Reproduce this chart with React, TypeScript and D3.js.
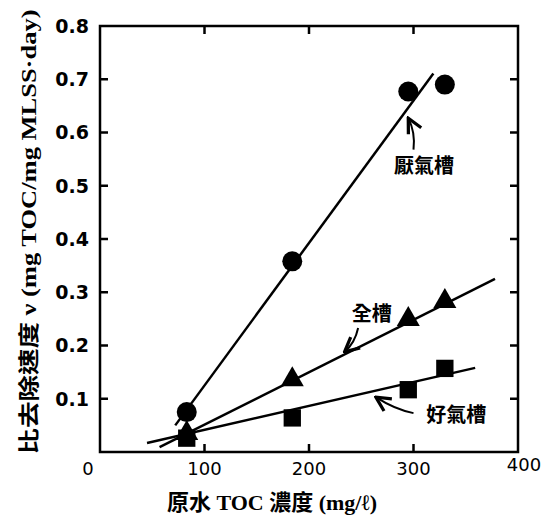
import React from 'react';
import * as d3 from 'd3';

// x = 原水 TOC 濃度 (mg/ℓ), y = 比去除速度 ν
const anaerobicPts: [number, number][] = [[83, 0.075], [184, 0.358], [295, 0.677], [330, 0.69]];
const wholePts: [number, number][] = [[83, 0.035], [184, 0.136], [295, 0.249], [330, 0.283]];
const aerobicPts: [number, number][] = [[83, 0.026], [184, 0.064], [295, 0.117], [330, 0.157]];

// fitted lines (start, end)
const anaerobicLine: [number, number][] = [[72, 0.05], [319, 0.711]];
const wholeLine: [number, number][] = [[57, 0.009], [378, 0.325]];
const aerobicLine: [number, number][] = [[45, 0.017], [359, 0.158]];

const xTicks = [0, 100, 200, 300, 400];
const yTicks = [0.1, 0.2, 0.3, 0.4, 0.5, 0.6, 0.7, 0.8];

// label text, label pos, arrow tail, arrow head, curve control
const notes = [
  { text: '厭氣槽', at: [310, 0.538], tail: [300, 0.568], head: [295, 0.627], ctl: [302, 0.6] },
  { text: '全槽', at: [260, 0.26], tail: [247, 0.233], head: [234, 0.188], ctl: [244, 0.205] },
  { text: '好氣槽', at: [341, 0.07], tail: [300, 0.073], head: [264, 0.103], ctl: [282, 0.08] },
];

const W = 544;
const H = 524;

export default function App() {
  const x = d3.scaleLinear().domain([0, 400]).range([100, 518]);
  const y = d3.scaleLinear().domain([0, 0.8]).range([452, 26]);
  const line = d3.line<[number, number]>().x((d) => x(d[0])).y((d) => y(d[1]));
  const tick = 8;
  const sans = '"DejaVu Sans", Arial, sans-serif';
  const serif = '"Liberation Serif", "Noto Sans CJK TC", serif';
  const cjk = '"Noto Sans CJK TC", sans-serif';

  const tri = d3.symbol().type(d3.symbolTriangle).size(230)();
  const sq = d3.symbol().type(d3.symbolSquare).size(300)();

  return (
    <svg width={W} height={H} style={{ position: 'absolute', left: 0, top: 0, background: '#fff' }}>
      <defs>
        <marker id="arr" viewBox="0 0 10 10" refX="9" refY="5" markerWidth="9" markerHeight="9" orient="auto">
          <path d="M1,1 L9,5 L1,9" fill="none" stroke="#000" strokeWidth={1.8} />
        </marker>
      </defs>

      {/* frame */}
      <rect x={x(0)} y={y(0.8)} width={x(400) - x(0)} height={y(0) - y(0.8)} fill="none" stroke="#000" strokeWidth={2.5} />

      {/* ticks inside on all four sides */}
      {xTicks.slice(1, -1).map((t) => (
        <g key={'xt' + t}>
          <line x1={x(t)} x2={x(t)} y1={y(0)} y2={y(0) - tick} stroke="#000" strokeWidth={2.5} />
          <line x1={x(t)} x2={x(t)} y1={y(0.8)} y2={y(0.8) + tick} stroke="#000" strokeWidth={2.5} />
        </g>
      ))}
      {yTicks.slice(0, -1).map((t) => (
        <g key={'yt' + t}>
          <line x1={x(0)} x2={x(0) + tick} y1={y(t)} y2={y(t)} stroke="#000" strokeWidth={2.5} />
          <line x1={x(400)} x2={x(400) - tick} y1={y(t)} y2={y(t)} stroke="#000" strokeWidth={2.5} />
        </g>
      ))}

      {/* tick labels */}
      {yTicks.map((t) => (
        <text key={'yl' + t} x={89} y={y(t)} dy="0.36em" textAnchor="end" fontFamily={sans} fontWeight="bold" fontSize={19}>
          {t.toFixed(1)}
        </text>
      ))}
      {xTicks.map((t) => (
        <text key={'xl' + t} x={t === 0 ? 88 : x(t) + (t === 400 ? 6 : 0)} y={t === 400 ? 471 : 475} textAnchor="middle" fontFamily={sans} fontSize={18}>
          {t}
        </text>
      ))}

      {/* axis titles */}
      <text x={272} y={510} textAnchor="middle" fontFamily={serif} fontWeight="bold" fontSize={22}>
        原水 TOC 濃度 (mg/ℓ)
      </text>
      <text
        transform="translate(36,232) rotate(-90)"
        textAnchor="middle"
        fontFamily={serif}
        fontWeight="bold"
        fontSize={21}
        textLength={445}
        lengthAdjust="spacingAndGlyphs"
      >
        比去除速度 ν (mg TOC/mg MLSS·day)
      </text>

      {/* fitted lines */}
      {[anaerobicLine, wholeLine, aerobicLine].map((l, i) => (
        <path key={'l' + i} d={line(l) || ''} fill="none" stroke="#000" strokeWidth={2.5} />
      ))}

      {/* markers */}
      {anaerobicPts.map((p, i) => (
        <circle key={'c' + i} cx={x(p[0])} cy={y(p[1])} r={10} fill="#000" />
      ))}
      {aerobicPts.map((p, i) => (
        <path key={'s' + i} d={sq || ''} transform={`translate(${x(p[0])},${y(p[1])})`} fill="#000" />
      ))}
      {wholePts.map((p, i) => (
        <path key={'t' + i} d={tri || ''} transform={`translate(${x(p[0])},${y(p[1])})`} fill="#000" />
      ))}

      {/* annotations */}
      {notes.map((n) => (
        <g key={n.text}>
          <path
            d={`M${x(n.tail[0])},${y(n.tail[1])} Q${x(n.ctl[0])},${y(n.ctl[1])} ${x(n.head[0])},${y(n.head[1])}`}
            fill="none"
            stroke="#000"
            strokeWidth={2}
            markerEnd="url(#arr)"
          />
          <text x={x(n.at[0])} y={y(n.at[1])} dy="0.35em" textAnchor="middle" fontFamily={cjk} fontWeight="bold" fontSize={20}>
            {n.text}
          </text>
        </g>
      ))}
    </svg>
  );
}
